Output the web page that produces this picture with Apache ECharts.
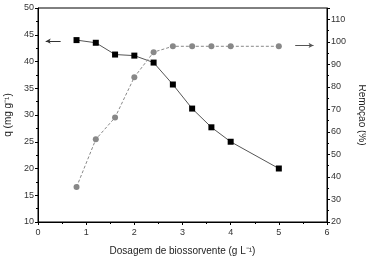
<!DOCTYPE html>
<html>
<head>
<meta charset="utf-8">
<script src="https://cdn.jsdelivr.net/npm/echarts@6/dist/echarts.min.js"></script>
<style>
  html, body { margin: 0; padding: 0; background: #fff; }
  #chart { width: 366px; height: 260px; }
</style>
</head>
<body>
<div id="chart"></div>
<script>
// Dosagem (g/L)
const dosagem = [0.8, 1.2, 1.6, 2.0, 2.4, 2.8, 3.2, 3.6, 4.0, 5.0];
// q (mg/g) - eixo esquerdo
const qValores = [44.0, 43.5, 41.3, 41.1, 39.8, 35.7, 31.2, 27.7, 25.0, 20.0];
// Remoção (%) - eixo direito
const remocao = [35.5, 56.7, 66.4, 84.3, 95.4, 98.0, 98.0, 98.0, 98.0, 98.0];

const chart = echarts.init(document.getElementById('chart'));

const fonte = 'Liberation Sans, Arial, sans-serif';

const option = {
    animation: false,
    grid: {
        left: 38,
        right: 39,
        top: 8,
        bottom: 38,
        outerBoundsMode: 'none',
        containLabel: false,
        show: true,
        borderColor: '#000',
        borderWidth: 1
    },
    xAxis: {
        type: 'value',
        min: 0,
        max: 6,
        interval: 1,
        name: 'Dosagem de biossorvente (g L⁻¹)',
        nameLocation: 'middle',
        nameGap: 24,
        nameTextStyle: { fontFamily: fonte, fontSize: 10, color: '#222' },
        axisLine: { lineStyle: { color: '#000' } },
        axisTick: { inside: false, length: 3, lineStyle: { color: '#000' } },
        minorTick: { show: true, splitNumber: 2, length: 2, lineStyle: { color: '#000' } },
        axisLabel: { fontFamily: fonte, fontSize: 9, color: '#333', margin: 6 },
        splitLine: { show: false }
    },
    yAxis: [
        {
            type: 'value',
            min: 10,
            max: 50,
            interval: 5,
            name: 'q (mg g⁻¹)',
            nameLocation: 'middle',
            nameGap: 22,
            nameTextStyle: { fontFamily: fonte, fontSize: 10, color: '#222' },
            axisLine: { show: true, lineStyle: { color: '#000' } },
            axisTick: { show: true, length: 3, lineStyle: { color: '#000' } },
            minorTick: { show: true, splitNumber: 2, length: 2, lineStyle: { color: '#000' } },
            axisLabel: { fontFamily: fonte, fontSize: 9, color: '#333', margin: 4 },
            splitLine: { show: false }
        },
        {
            type: 'value',
            min: 20,
            max: 115,
            interval: 10,
            position: 'right',
            name: 'Remoção (%)',
            nameLocation: 'middle',
            nameRotate: -90,
            nameGap: 25,
            nameTextStyle: { fontFamily: fonte, fontSize: 10, color: '#222' },
            axisLine: { show: true, lineStyle: { color: '#000' } },
            axisTick: { show: true, length: 3, lineStyle: { color: '#000' } },
            minorTick: { show: true, splitNumber: 2, length: 2, lineStyle: { color: '#000' } },
            axisLabel: { fontFamily: fonte, fontSize: 9, color: '#333', margin: 4, showMaxLabel: false },
            splitLine: { show: false }
        }
    ],
    series: [
        {
            name: 'q',
            type: 'line',
            yAxisIndex: 0,
            data: dosagem.map((d, i) => [d, qValores[i]]),
            symbol: 'rect',
            symbolSize: 6,
            itemStyle: { color: '#000' },
            lineStyle: { color: '#555', width: 1 },
            markLine: {
                silent: true,
                symbol: ['none', 'arrow'],
                symbolSize: [4, 5],
                label: { show: false },
                lineStyle: { color: '#333', width: 1, type: 'solid' },
                data: [[{ coord: [0.47, 43.8] }, { coord: [0.16, 43.8] }]]
            }
        },
        {
            name: 'Remoção',
            type: 'line',
            yAxisIndex: 1,
            data: dosagem.map((d, i) => [d, remocao[i]]),
            symbol: 'circle',
            symbolSize: 6,
            itemStyle: { color: '#888' },
            lineStyle: { color: '#888', width: 1, type: [3, 2] },
            markLine: {
                silent: true,
                symbol: ['none', 'arrow'],
                symbolSize: [4, 5],
                label: { show: false },
                lineStyle: { color: '#555', width: 1, type: 'solid' },
                data: [[{ coord: [5.34, 98.4] }, { coord: [5.72, 98.4] }]]
            }
        }
    ]
};

chart.setOption(option);
</script>
</body>
</html>
